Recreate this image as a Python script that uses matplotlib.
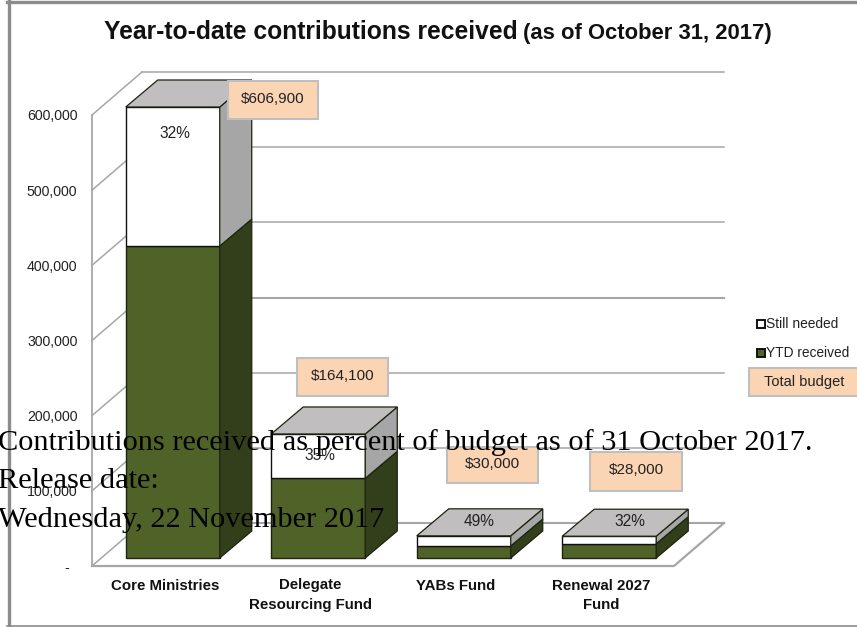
import matplotlib
matplotlib.use("Agg")
import matplotlib.pyplot as plt
from matplotlib.patches import Polygon, Rectangle

WIDTH, HEIGHT = 857, 627

categories = ["Core Ministries", "Delegate\nResourcing Fund", "YABs Fund", "Renewal 2027\nFund"]
ytd_received = [415000, 106000, 16000, 19000]
total_height = [600000, 165000, 29500, 29000]
pct_needed = ["32%", "35%", "49%", "32%"]
budget_labels = ["$606,900", "$164,100", "$30,000", "$28,000"]
y_ticks = [0, 100000, 200000, 300000, 400000, 500000, 600000]
y_labels = ["-  ", "100,000", "200,000", "300,000", "400,000", "500,000", "600,000"]
note_lines = ["Contributions received as percent of budget as of 31 October 2017.",
              "Release date:",
              "Wednesday, 22 November 2017"]

GREEN, GREEN_SIDE = "#4f6228", "#333f1b"
GRID = "#a6a6a6"
BOX = "#fbd4b4"
TEXT = "#222222"

plt.rcParams["font.family"] = ["Liberation Sans", "DejaVu Sans"]
fig = plt.figure(figsize=(WIDTH / 100, HEIGHT / 100), dpi=100)
# axes = front edge of the chart floor and left wall
ax = fig.add_axes([92 / WIDTH, 1 - 566 / HEIGHT, 582 / WIDTH, 451 / HEIGHT])
ax.set_xlim(-0.5, 3.5)
ax.set_ylim(0, 600000)
ax.patch.set_visible(False)
for s in ax.spines.values():
    s.set_visible(False)

PX_X = 4 / 582
PX_Y = 600000 / 451
WALL_DX, WALL_DY = 50 * PX_X, 43 * PX_Y
BAR_DX, BAR_DY = 32 * PX_X, 27 * PX_Y
OFF_X, OFF_Y = 8 * PX_X, 8 * PX_Y
BAR_W = 94 * PX_X


def px_text(x, y, s, **kw):
    kw.setdefault("ha", "center")
    kw.setdefault("va", "center")
    return fig.text(x / WIDTH, 1 - y / HEIGHT, s, **kw)


def px_box(x0, y0, x1, y1):
    fig.add_artist(Rectangle((x0 / WIDTH, 1 - y1 / HEIGHT), (x1 - x0) / WIDTH, (y1 - y0) / HEIGHT,
                             transform=fig.transFigure, fc=BOX, ec="#bfbfbf", lw=1.5, zorder=5))


# walls and gridlines
for t in y_ticks:
    lw = 1.5 if t in (0, 300000) else 1.1
    ax.plot([-0.5, -0.5 + WALL_DX], [t, t + WALL_DY], color=GRID, lw=1.1, clip_on=False, zorder=1)
    ax.plot([-0.5 + WALL_DX, 3.5 + WALL_DX], [t + WALL_DY, t + WALL_DY], color=GRID, lw=lw, clip_on=False, zorder=1)
ax.plot([-0.5, -0.5], [0, 600000], color=GRID, lw=1.3, clip_on=False, zorder=1)
ax.plot([-0.5, 3.5, 3.5 + WALL_DX], [0, 0, WALL_DY], color=GRID, lw=1.6, clip_on=False, zorder=1)

# bars with their 3d faces
for i, cat in enumerate(categories):
    x0 = i + OFF_X - BAR_W / 2
    x1 = x0 + BAR_W
    base = OFF_Y
    rec = base + ytd_received[i]
    top = base + total_height[i]
    ax.bar(i + OFF_X, ytd_received[i], BAR_W, bottom=base, color=GREEN, edgecolor="#1c2410", lw=1, zorder=3, clip_on=False)
    ax.bar(i + OFF_X, total_height[i] - ytd_received[i], BAR_W, bottom=rec, color="white", edgecolor="#111111", lw=1, zorder=3, clip_on=False)
    faces = [([(x1, base), (x1 + BAR_DX, base + BAR_DY), (x1 + BAR_DX, rec + BAR_DY), (x1, rec)], GREEN_SIDE),
             ([(x1, rec), (x1 + BAR_DX, rec + BAR_DY), (x1 + BAR_DX, top + BAR_DY), (x1, top)], "#a6a6a6"),
             ([(x0, top), (x1, top), (x1 + BAR_DX, top + BAR_DY), (x0 + BAR_DX, top + BAR_DY)], "#c0bebe")]
    for pts, col in faces:
        ax.add_patch(Polygon(pts, fc=col, ec="#1c2410", lw=0.9, zorder=3, clip_on=False))

ax.set_xticks(range(4), categories, fontsize=10.8, fontweight="bold", color="#111111", linespacing=1.5)
ax.set_yticks(y_ticks, y_labels, fontsize=10.2, color=TEXT)
ax.tick_params(axis="both", length=0)
ax.tick_params(axis="x", pad=9)
ax.tick_params(axis="y", pad=10.5)

# percent labels
pct_pos = [(175, 133), (320, 455), (479, 521), (630, 521)]
for (x, y), s in zip(pct_pos, pct_needed):
    px_text(x, y, s, fontsize=11.2, color=TEXT, zorder=6)

# budget boxes
box_pos = [(228, 81, 318, 119), (297, 358, 388, 396), (447, 447, 538, 483), (590, 452, 682, 491)]
for b, s in zip(box_pos, budget_labels):
    px_box(*b)
    px_text((b[0] + b[2]) / 2, (b[1] + b[3]) / 2 - 1, s, fontsize=11, color=TEXT, zorder=6)

# legend
for y, fc, s in [(324, "white", "Still needed"), (353, GREEN, "YTD received")]:
    fig.add_artist(Rectangle((756.5 / WIDTH, 1 - (y + 4) / HEIGHT), 8 / WIDTH, 8 / HEIGHT,
                             transform=fig.transFigure, fc=fc, ec="#111111", lw=1.4))
    px_text(766, y, s, ha="left", fontsize=9.9, color=TEXT)
px_box(749, 368, 859, 396)
px_text(804, 382, "Total budget", fontsize=10.5, color=TEXT, zorder=6)

# title
px_text(104, 32, "Year-to-date contributions received", ha="left", fontsize=17.7, fontweight="bold", color="#111111")
px_text(523, 33, "(as of October 31, 2017)", ha="left", fontsize=15.8, fontweight="bold", color="#111111")

# outer frame, left and top and bottom only reach the image edge
for pts in [((8.5, 8.5), (0, 627)), ((7, 857), (1.5, 1.5)), ((7, 857), (626, 626))]:
    fig.add_artist(plt.Line2D([p / WIDTH for p in pts[0]], [1 - p / HEIGHT for p in pts[1]], color="#8c8c8c",
                              lw=2.4 if pts[1][0] != 626 else 1.2))

# html text spilling over the picture
for y, line in zip([450, 488, 527], note_lines):
    px_text(-2, y, line, ha="left", va="baseline", family=["Liberation Serif"], fontsize=21.85, color="black", zorder=10)

fig.savefig("out.png", dpi=100)
